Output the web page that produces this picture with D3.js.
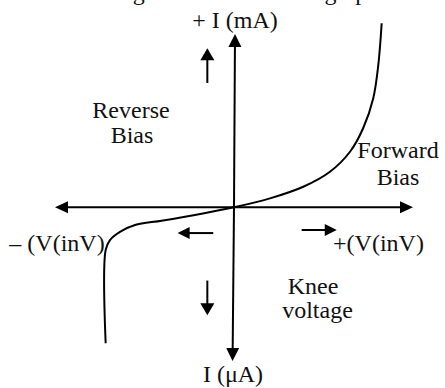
<!DOCTYPE html>
<html><head><meta charset="utf-8">
<script src="https://cdn.jsdelivr.net/npm/d3@7"></script>
<style>html,body{margin:0;padding:0;background:#fff;} svg{display:block;} text{font-family:"Liberation Serif","Times New Roman",serif;fill:#111;}</style>
</head><body>
<script>
// Diode characteristic curve (V in volts-units, I in current-units)
const voltage = [8.25, 8.06, 7.78, 7.22, 6.48, 5.36, 3.87, 2.01, 0, -2.18, -4.04, -5.53, -6.37, -6.93, -7.17, -7.17];
const current = [10.3, 7.96, 6.11, 4.44, 3.11, 1.99, 1.15, 0.50, 0, -0.43, -0.75, -0.99, -1.37, -1.83, -2.39, -7.61];
const xDomain = [-10, 10];
const yDomain = [-8.6, 9.7];
const axisLabels = ["+ I (mA)", "I (\u03bcA)", "\u2013 (V(inV)", "+(V(inV)"];
const regionLabels = [["Reverse", "Bias"], ["Forward", "Bias"], ["Knee", "voltage"]];
const titleText = "Diagram of the diode\u2019s graph";

const W = 445, H = 388;
const svg = d3.select("body").append("svg").attr("width", W).attr("height", H);
const x = d3.scaleLinear().domain(xDomain).range([55, 413]);
const y = d3.scaleLinear().domain(yDomain).range([361, 34]);

function arrow(x1, y1, x2, y2, len, hw) {
  const dx = x2 - x1, dy = y2 - y1, L = Math.hypot(dx, dy);
  const ux = dx / L, uy = dy / L;
  const bx = x2 - ux * len, by = y2 - uy * len;
  svg.append("line").attr("x1", x1).attr("y1", y1).attr("x2", bx + ux).attr("y2", by + uy)
    .attr("stroke", "#000").attr("stroke-width", 2);
  svg.append("path")
    .attr("d", `M${x2},${y2}L${bx - uy * hw},${by + ux * hw}L${bx + uy * hw},${by - ux * hw}Z`)
    .attr("fill", "#000");
}

// title (mostly cut off at the top edge, as in the reference)
svg.append("text").attr("x", 98).attr("y", 0).attr("font-size", 24).text(titleText);

// axes (double headed horizontal, double headed vertical)
const x0 = x(0), y0 = y(0);
arrow(x0, y0, x(xDomain[1]), y0, 13, 6);
arrow(x0, y0, x(xDomain[0]), y0, 13, 6);
arrow(x(0), y0, x(0.056), y(yDomain[1]), 13, 6.5);
arrow(x(0), y0, x(-0.08), y(yDomain[0]), 13, 6.5);

// direction arrows
arrow(x(-1.49), y(6.96), x(-1.49), y(8.9), 12, 7);
arrow(x(-1.49), y(-4.10), x(-1.49), y(-6.04), 12, 7);
arrow(x(-1.16), y(-1.44), x(-3.15), y(-1.44), 12, 6);
arrow(x(3.78), y(-1.27), x(5.74), y(-1.27), 12, 6);

// characteristic curve
const pts = voltage.map((v, i) => [v, current[i]]);
svg.append("path").datum(pts)
  .attr("d", d3.line().x(d => x(d[0])).y(d => y(d[1])).curve(d3.curveCatmullRom.alpha(0.5)))
  .attr("fill", "none").attr("stroke", "#000").attr("stroke-width", 2);

// labels
const fs = 24;
function label(t, cx, by, anchor) {
  svg.append("text").attr("x", cx).attr("y", by).attr("font-size", fs)
    .attr("text-anchor", anchor || "middle").text(t);
}
label(axisLabels[0], 235, 28);
label(axisLabels[1], 233, 382);
label(axisLabels[2], 57, 251);
label(axisLabels[3], 378.5, 251);
label(regionLabels[0][0], 131, 118);
label(regionLabels[0][1], 132, 143);
label(regionLabels[1][0], 398, 158);
label(regionLabels[1][1], 398, 185);
label(regionLabels[2][0], 313, 294);
label(regionLabels[2][1], 317.5, 318);
</script>
</body></html>
